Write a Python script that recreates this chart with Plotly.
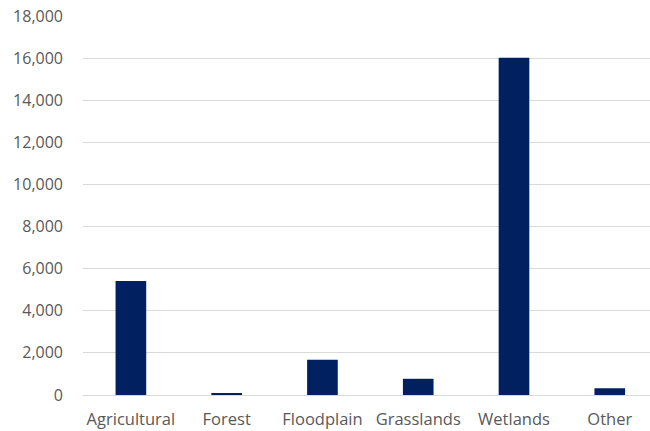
import plotly.graph_objects as go

# Land-use categories and their totals
categories = ["Agricultural", "Forest", "Floodplain", "Grasslands", "Wetlands", "Other"]
values = [5420, 90, 1680, 770, 16020, 320]

y_ticks = list(range(0, 18001, 2000))
y_tick_labels = [f"{v:,}" for v in y_ticks]

fig = go.Figure(
    go.Bar(
        x=categories,
        y=values,
        width=0.32,
        marker=dict(color="#002060", line=dict(width=0)),
    )
)

fig.update_layout(
    width=650,
    height=431,
    margin=dict(l=83, r=0, t=16, b=36),
    paper_bgcolor="white",
    plot_bgcolor="white",
    showlegend=False,
    font=dict(family="Open Sans", size=16, color="#595959"),
    xaxis=dict(
        range=[-0.5, 5.42],
        showgrid=False,
        showline=True,
        linecolor="#d9d9d9",
        linewidth=1,
        ticks="",
        tickfont=dict(size=16.5),
        ticklabelstandoff=9,
    ),
    yaxis=dict(
        range=[0, 18000],
        tickvals=y_ticks,
        ticktext=y_tick_labels,
        showgrid=True,
        gridcolor="#d9d9d9",
        gridwidth=1,
        zeroline=False,
        showline=False,
        ticks="",
        tickfont=dict(size=16),
        ticklabelstandoff=19,
    ),
)

fig.write_html("out.html")
